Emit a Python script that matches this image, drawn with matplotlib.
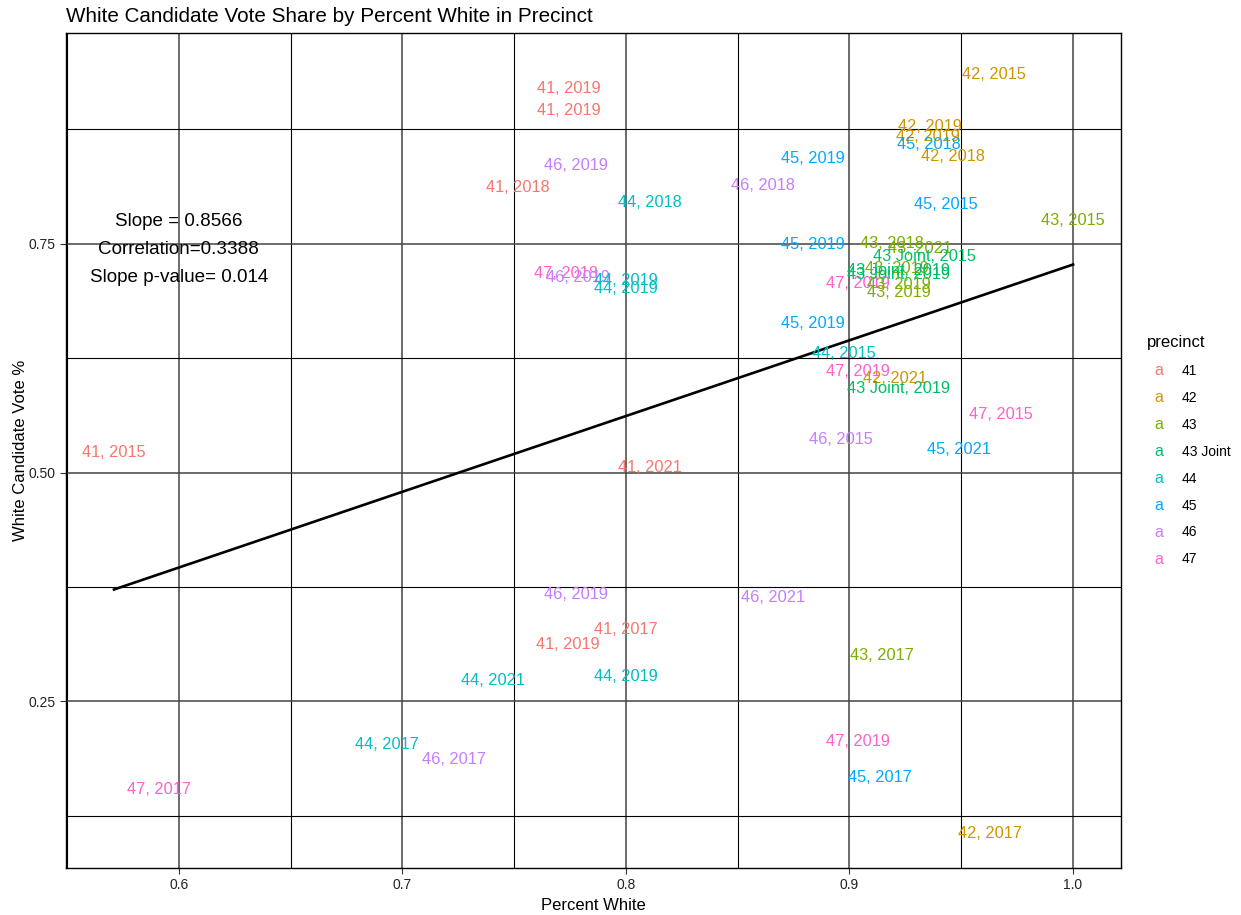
import numpy as np
import matplotlib.pyplot as plt
from matplotlib.ticker import MultipleLocator
from matplotlib.transforms import offset_copy

plt.rcParams['font.family'] = ['Liberation Sans', 'DejaVu Sans']

precinct = ['41', '41', '42', '42', '42', '45', '42', '46', '45', '41',
            '46', '44', '45', '43', '45', '43', '43', '43 Joint', '47', '46',
            '44', '44', '47', '43', '43 Joint', '43 Joint', '43', '43', '45', '44',
            '47', '42', '43 Joint', '47', '46', '45', '41', '41', '46', '46',
            '41', '41', '43', '44', '44', '44', '46', '47', '47', '45', '42']
year = ['2019', '2019', '2015', '2019', '2019', '2018', '2018', '2019', '2019', '2018',
        '2018', '2018', '2015', '2015', '2019', '2018', '2021', '2015', '2018', '2019',
        '2019', '2019', '2019', '2019', '2019', '2019', '2019', '2019', '2019', '2015',
        '2019', '2021', '2019', '2015', '2015', '2021', '2015', '2021', '2019', '2021',
        '2017', '2019', '2017', '2021', '2019', '2017', '2017', '2019', '2017', '2017', '2017']
pct_white = [0.7746, 0.7746, 0.9647, 0.9362, 0.9353, 0.9353, 0.9464, 0.7777, 0.8835, 0.7518,
             0.8612, 0.8107, 0.9429, 1.0000, 0.8835, 0.9188, 0.9313, 0.9335, 0.7732, 0.7786,
             0.8000, 0.8000, 0.9040, 0.9214, 0.9219, 0.9219, 0.9219, 0.9223, 0.8835, 0.8973,
             0.9040, 0.9205, 0.9219, 0.9679, 0.8960, 0.9491, 0.5710, 0.8107, 0.7777, 0.8656,
             0.8000, 0.7741, 0.9143, 0.7406, 0.8000, 0.6933, 0.7232, 0.9036, 0.5911, 0.9134, 0.9629]
vote_share = [0.9234, 0.8993, 0.9387, 0.8818, 0.8709, 0.8621, 0.8490, 0.8392, 0.8468, 0.8151,
              0.8173, 0.7987, 0.7965, 0.7790, 0.7527, 0.7538, 0.7484, 0.7396, 0.7210, 0.7166,
              0.7133, 0.7046, 0.7101, 0.7265, 0.7243, 0.7199, 0.7090, 0.7002, 0.6663, 0.6335,
              0.6138, 0.6061, 0.5952, 0.5667, 0.5394, 0.5295, 0.5252, 0.5088, 0.3709, 0.3676,
              0.3326, 0.3162, 0.3042, 0.2768, 0.2812, 0.2068, 0.1904, 0.2101, 0.1575, 0.1707, 0.1094]

levels = ['41', '42', '43', '43 Joint', '44', '45', '46', '47']
palette = ['#F8766D', '#CD9600', '#7CAE00', '#00BE67', '#00BFC4', '#00A9FF', '#C77CFF', '#FF61CC']
colors = dict(zip(levels, palette))

stats_text = "Slope = 0.8566\nCorrelation=0.3388\nSlope p-value= 0.014"

x = np.array(pct_white)
y = np.array(vote_share)

fig = plt.figure(figsize=(12.41, 9.15), dpi=100)
ax = fig.add_axes([66 / 1241, 47 / 915, 1055 / 1241, 835 / 915])

# ggplot style 5% expansion
xr = x.max() - x.min()
yr = y.max() - y.min()
ax.set_xlim(x.min() - 0.05 * xr, x.max() + 0.05 * xr)
ax.set_ylim(y.min() - 0.05 * yr, y.max() + 0.05 * yr)

ax.xaxis.set_minor_locator(MultipleLocator(0.05))
ax.yaxis.set_minor_locator(MultipleLocator(0.125))
ax.set_xticks([0.6, 0.7, 0.8, 0.9, 1.0])
ax.set_xticklabels(['0.6', '0.7', '0.8', '0.9', '1.0'])
ax.set_yticks([0.25, 0.5, 0.75])
ax.set_yticklabels(['0.25', '0.50', '0.75'])
ax.grid(which='major', color='#444444', lw=1.1)
ax.grid(which='minor', color='black', lw=0.8)
ax.set_axisbelow(True)
ax.tick_params(which='major', length=4, width=0.8, color='#333333', labelsize=10, labelcolor='#222222')
ax.tick_params(which='minor', length=0)
for s in ax.spines.values():
    s.set_color('black')
    s.set_linewidth(1.0)

# linear fit
slope, intercept = np.polyfit(x, y, 1)
xs = np.linspace(x.min(), x.max(), 50)
ax.plot(xs, slope * xs + intercept, color='black', lw=1.9, zorder=3)

# text labels sit a hair lower, like ggplot's vjust
lbl_tr = offset_copy(ax.transData, fig=fig, x=0, y=-2, units='dots')
for px, py, p, yr_ in zip(x, y, precinct, year):
    ax.text(px, py, p + ', ' + yr_, color=colors[p], fontsize=11.8,
            ha='center', va='center_baseline', zorder=4, transform=lbl_tr)

ax.text(0.6, 0.7436, stats_text, ha='center', va='center', fontsize=13.6,
        linespacing=1.85, color='black', zorder=5)

ax.set_xlabel('Percent White', fontsize=12, labelpad=4)
ax.set_ylabel('White Candidate Vote %', fontsize=12, labelpad=0)
fig.text(66 / 1241, 1 - 17 / 915, 'White Candidate Vote Share by Percent White in Precinct',
         fontsize=14.9, ha='left', va='center')

# legend drawn as text keys like ggplot geom_text
fig.text(1147 / 1241, 1 - 342 / 915, 'precinct', fontsize=12, ha='left', va='center')
for i, lv in enumerate(levels):
    yy = 1 - (371 + i * 26.9) / 915
    fig.text(1159 / 1241, yy, 'a', color=colors[lv], fontsize=11.5, ha='center', va='center')
    fig.text(1182 / 1241, yy, lv, fontsize=10, ha='left', va='center')

fig.savefig('out.png', dpi=100)
